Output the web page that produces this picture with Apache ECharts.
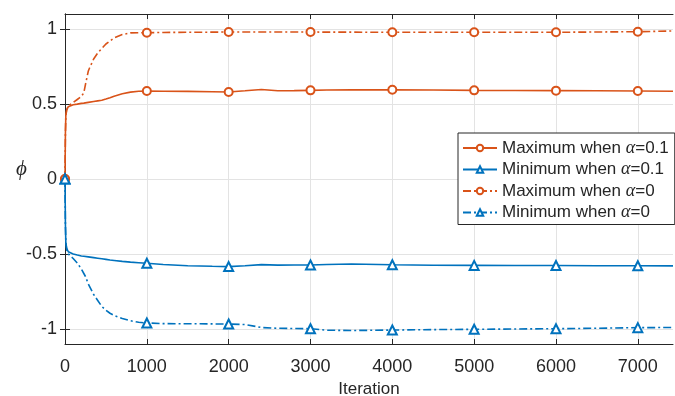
<!DOCTYPE html>
<html>
<head>
<meta charset="utf-8">
<script src="https://cdn.jsdelivr.net/npm/echarts@6/dist/echarts.min.js"></script>
<style>html,body{margin:0;padding:0;background:#fff}#c{width:675px;height:396px}</style>
</head>
<body>
<div id="c"></div>
<script>
const iterations = [0, 5, 10, 20, 40, 60, 100, 150, 200, 230, 250, 285, 300, 350, 400, 450, 500, 550, 600, 700, 800, 900, 1000, 1200, 1500, 1800, 2000, 2200, 2400, 2600, 2800, 3000, 3200, 3500, 4000, 4500, 5000, 5500, 6000, 6500, 7000, 7430];
const maxAlpha01 = [0, 0.30, 0.42, 0.46, 0.482, 0.49, 0.495, 0.499, 0.504, 0.506, 0.508, 0.511, 0.513, 0.517, 0.521, 0.525, 0.533, 0.542, 0.552, 0.568, 0.579, 0.585, 0.587, 0.585, 0.584, 0.582, 0.580, 0.588, 0.597, 0.588, 0.589, 0.591, 0.593, 0.594, 0.595, 0.593, 0.591, 0.590, 0.589, 0.588, 0.587, 0.585];
const minAlpha01 = [0, -0.30, -0.42, -0.46, -0.485, -0.493, -0.500, -0.507, -0.513, -0.515, -0.517, -0.519, -0.520, -0.524, -0.528, -0.532, -0.536, -0.540, -0.543, -0.549, -0.554, -0.558, -0.562, -0.570, -0.578, -0.582, -0.584, -0.578, -0.571, -0.574, -0.573, -0.573, -0.570, -0.567, -0.572, -0.575, -0.576, -0.577, -0.577, -0.578, -0.578, -0.579];
const maxAlpha0 = [0, 0.30, 0.42, 0.46, 0.487, 0.497, 0.510, 0.530, 0.550, 0.575, 0.630, 0.720, 0.740, 0.800, 0.840, 0.870, 0.900, 0.920, 0.940, 0.963, 0.974, 0.975, 0.975, 0.977, 0.978, 0.979, 0.980, 0.980, 0.980, 0.980, 0.980, 0.980, 0.979, 0.979, 0.978, 0.978, 0.978, 0.978, 0.978, 0.980, 0.982, 0.987];
const minAlpha0 = [0, -0.30, -0.42, -0.47, -0.50, -0.51, -0.53, -0.56, -0.60, -0.63, -0.65, -0.70, -0.71, -0.77, -0.81, -0.85, -0.875, -0.895, -0.91, -0.93, -0.945, -0.955, -0.96, -0.964, -0.965, -0.966, -0.967, -0.970, -0.990, -0.995, -0.997, -0.998, -1.008, -1.010, -1.007, -1.004, -1.002, -1.000, -0.998, -0.995, -0.991, -0.990];
const markerIterations = [0, 1000, 2000, 3000, 4000, 5000, 6000, 7000];
const xTicks = [0, 1000, 2000, 3000, 4000, 5000, 6000, 7000];
const yTicks = [-1, -0.5, 0, 0.5, 1];
const seriesNames = ['Maximum when α=0.1', 'Minimum when α=0.1', 'Maximum when α=0', 'Minimum when α=0'];

const ORANGE = '#D95319', BLUE = '#0072BD', AX = '#262626';
const FONT = "'Liberation Sans', Arial, Helvetica, sans-serif";

function build(vals) {
  return iterations.map((x, i) => {
    const item = { value: [x, vals[i]] };
    if (markerIterations.indexOf(x) < 0) item.symbol = 'none';
    return item;
  });
}
function mk(name, vals, color, sym, dashed) {
  return {
    name, type: 'line', data: build(vals), xAxisIndex: 0, yAxisIndex: 0,
    symbol: sym, symbolSize: sym === 'emptyTriangle' ? 9 : 8, showAllSymbol: true,
    smooth: false, animation: false,
    lineStyle: { color, width: 1.6, type: dashed ? [8, 3, 2, 3] : 'solid' },
    itemStyle: { color, borderWidth: 1.6 },
    emphasis: { disabled: true }
  };
}

const chart = echarts.init(document.getElementById('c'));
const baseY = {
  type: 'value', min: -1.1, max: 1.1,
  axisLine: { show: true, lineStyle: { color: AX, width: 1 } },
  axisTick: { show: true, inside: true, length: 5, customValues: yTicks, lineStyle: { color: AX } }
};
const baseX = {
  type: 'value', min: 0, max: 7430,
  axisLine: { show: true, onZero: false, lineStyle: { color: AX, width: 1 } },
  axisTick: { show: true, inside: true, length: 5, customValues: xTicks, lineStyle: { color: AX } }
};
chart.setOption({
  backgroundColor: '#fff',
  animation: false,
  grid: { left: 65, right: 2, top: 14, bottom: 52, containLabel: false, outerBoundsMode: 'none' },
  xAxis: [
    Object.assign({}, baseX, {
      position: 'bottom',
      axisLabel: { customValues: xTicks, color: AX, fontSize: 18, fontFamily: FONT, margin: 14,
        formatter: v => String(v) },
      splitLine: { show: true, lineStyle: { color: '#e3e3e3', width: 1 } },
      name: 'Iteration', nameLocation: 'middle', nameGap: 34,
      nameTextStyle: { color: AX, fontSize: 17, fontFamily: FONT }
    }),
    Object.assign({}, baseX, { position: 'top', axisLabel: { show: false }, splitLine: { show: false } })
  ],
  yAxis: [
    Object.assign({}, baseY, {
      position: 'left',
      axisLabel: { customValues: yTicks, color: AX, fontSize: 18, fontFamily: FONT, margin: 8,
        formatter: v => String(v) },
      splitLine: { show: true, lineStyle: { color: '#e3e3e3', width: 1 } }
    }),
    Object.assign({}, baseY, { position: 'right', axisLabel: { show: false }, splitLine: { show: false } })
  ],
  legend: {
    orient: 'vertical', left: 458, top: 133,
    padding: [6, 6, 3, 4], itemGap: 3.5, itemWidth: 34, itemHeight: 8,
    backgroundColor: '#fff', borderColor: AX, borderWidth: 1, borderRadius: 0,
    data: seriesNames,
    formatter: n => n.replace('α', '{a|α}'),
    textStyle: { color: AX, fontSize: 17, fontFamily: FONT,
      rich: { a: { fontFamily: "'Liberation Serif', 'DejaVu Serif', serif", fontStyle: 'italic', fontSize: 18, color: AX } } }
  },
  graphic: [{
    type: 'text', left: 16, top: 159,
    style: { text: 'ϕ', font: "italic 21px 'Liberation Serif', 'DejaVu Serif', serif", fill: AX }
  }],
  series: [
    mk(seriesNames[0], maxAlpha01, ORANGE, 'emptyCircle', false),
    mk(seriesNames[1], minAlpha01, BLUE, 'emptyTriangle', false),
    mk(seriesNames[2], maxAlpha0, ORANGE, 'emptyCircle', true),
    mk(seriesNames[3], minAlpha0, BLUE, 'emptyTriangle', true)
  ]
});
</script>
</body>
</html>
